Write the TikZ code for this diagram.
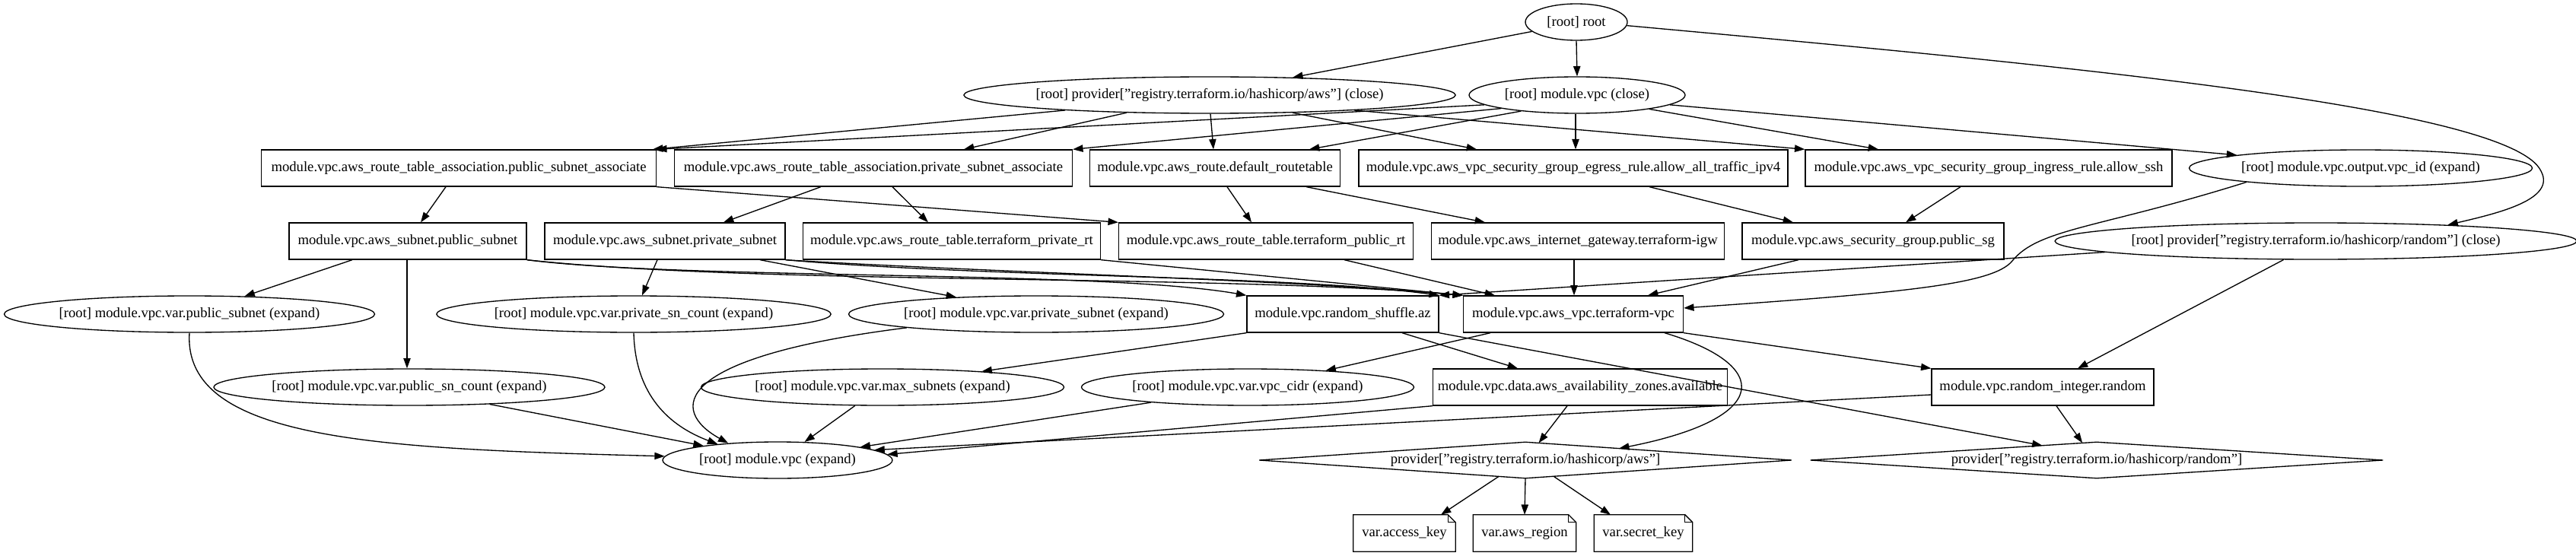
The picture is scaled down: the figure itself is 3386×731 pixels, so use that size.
\documentclass[tikz,border=0pt]{standalone}
\usepackage{fontspec}
\setmainfont{Liberation Serif}
\usetikzlibrary{shapes.geometric,arrows.meta,calc}
\newcommand\gvfont{\fontsize{14pt}{16pt}\selectfont}
\newcommand\gvnote[1]{%
  \draw[line width=1pt] (#1.south west) -- (#1.north west) -- ([xshift=-7.5pt]#1.north east) -- ([yshift=-7.5pt]#1.north east) -- (#1.south east) -- cycle;
  \draw[line width=1pt] ([xshift=-7.5pt]#1.north east) -- ([xshift=-7.5pt,yshift=-7.5pt]#1.north east) -- ([yshift=-7.5pt]#1.north east);}
\tikzset{
  gbox/.style={draw, rectangle, line width=1pt, minimum height=36pt, inner sep=0pt, font=\gvfont},
  gell/.style={draw, ellipse, line width=1pt, minimum height=36pt, inner sep=0pt, font=\gvfont},
  gplain/.style={rectangle, inner sep=0pt, minimum height=36pt, font=\gvfont},
  gedge/.style={line width=1pt, -{Triangle[length=10pt,width=7pt]}},
}
\begin{document}
\begin{tikzpicture}[x=0.75pt,y=-0.75pt]
\fill[white] (0,0) rectangle (3386,731);
\useasboundingbox (0,0) rectangle (3386,731);
% row 0
\node[gell, minimum width=100.5pt] (root) at (2072,29) {[root] root};
% row 1
\node[gell, minimum width=474.75pt] (pawsclose) at (1590,125) {[root] provider["registry.terraform.io/hashicorp/aws"] (close)};
\node[gell, minimum width=213pt] (vpcclose) at (2073,125) {[root] module.vpc (close)};
% row 2
\node[gbox, minimum width=389.25pt] (psa) at (603,221) {module.vpc.aws\_route\_table\_association.public\_subnet\_associate};
\node[gbox, minimum width=392.25pt] (prsa) at (1148,221) {module.vpc.aws\_route\_table\_association.private\_subnet\_associate};
\node[gbox, minimum width=246.75pt] (drt) at (1597,221) {module.vpc.aws\_route.default\_routetable};
\node[gbox, minimum width=423pt] (egress) at (2068,221) {module.vpc.aws\_vpc\_security\_group\_egress\_rule.allow\_all\_traffic\_ipv4};
\node[gbox, minimum width=361.5pt] (ingress) at (2614,221) {module.vpc.aws\_vpc\_security\_group\_ingress\_rule.allow\_ssh};
\node[gell, minimum width=338.25pt] (outvpc) at (3103,221) {[root] module.vpc.output.vpc\_id (expand)};
% row 3
\node[gbox, minimum width=234pt] (pubsub) at (536,317) {module.vpc.aws\_subnet.public\_subnet};
\node[gbox, minimum width=237pt] (privsub) at (874,317) {module.vpc.aws\_subnet.private\_subnet};
\node[gbox, minimum width=293.25pt] (privrt) at (1251,317) {module.vpc.aws\_route\_table.terraform\_private\_rt};
\node[gbox, minimum width=290.25pt] (pubrt) at (1664,317) {module.vpc.aws\_route\_table.terraform\_public\_rt};
\node[gbox, minimum width=288.75pt] (igw) at (2074,317) {module.vpc.aws\_internet\_gateway.terraform-igw};
\node[gbox, minimum width=258pt] (sg) at (2462,317) {module.vpc.aws\_security\_group.public\_sg};
\node[gell, minimum width=503.25pt] (prclose) at (3044,317) {[root] provider["registry.terraform.io/hashicorp/random"] (close)};
% row 4
\node[gell, minimum width=365.25pt] (vpubsub) at (249,413) {[root] module.vpc.var.public\_subnet (expand)};
\node[gell, minimum width=388.5pt] (vprivcnt) at (833,413) {[root] module.vpc.var.private\_sn\_count (expand)};
\node[gell, minimum width=369.75pt] (vprivsub) at (1362,413) {[root] module.vpc.var.private\_subnet (expand)};
\node[gbox, minimum width=189pt] (shuffle) at (1765,413) {module.vpc.random\_shuffle.az};
\node[gbox, minimum width=216.75pt] (vpc) at (2068,413) {module.vpc.aws\_vpc.terraform-vpc};
% row 5
\node[gell, minimum width=385.5pt] (vpubcnt) at (538,509) {[root] module.vpc.var.public\_sn\_count (expand)};
\node[gell, minimum width=357.75pt] (vmax) at (1160,509) {[root] module.vpc.var.max\_subnets (expand)};
\node[gell, minimum width=327.75pt] (vcidr) at (1640,509) {[root] module.vpc.var.vpc\_cidr (expand)};
\node[gbox, minimum width=290.25pt] (daz) at (2077,509) {module.vpc.data.aws\_availability\_zones.available};
\node[gbox, minimum width=219pt] (rint) at (2685,509) {module.vpc.random\_integer.random};
% row 6
\node[gell, minimum width=226.5pt] (vpcexp) at (1022,605) {[root] module.vpc (expand)};
\node[gplain, minimum width=524.25pt, minimum height=35.25pt] (paws) at (2005,605) {provider["registry.terraform.io/hashicorp/aws"]};
\node[gplain, minimum width=564pt, minimum height=35.25pt] (prand) at (2756,605) {provider["registry.terraform.io/hashicorp/random"]};
\draw[line width=1pt] (paws.west) -- (paws.north) -- (paws.east) -- (paws.south) -- cycle;
\draw[line width=1pt] (prand.west) -- (prand.north) -- (prand.east) -- (prand.south) -- cycle;
% row 7
\node[gplain, minimum width=100.5pt] (ak) at (1846,701) {var.access\_key};
\node[gplain, minimum width=101.25pt] (ar) at (2004,701) {var.aws\_region};
\node[gplain, minimum width=96.75pt] (sk) at (2160,701) {var.secret\_key};
\gvnote{ak}
\gvnote{ar}
\gvnote{sk}
% edges from root
\draw[gedge] (root.192) -- (pawsclose.12);
\draw[gedge] (root.south) -- (vpcclose.north);
\draw[gedge] (root.-4) .. controls (2700,85) and (3300,140) .. (3340,225) .. controls (3360,262) and (3285,280) .. (prclose.7);
% provider aws close
\draw[gedge] (pawsclose.186) -- (psa.north -| 858,0);
\draw[gedge] (pawsclose.192) -- (prsa.north -| 1267,0);
\draw[gedge] (pawsclose.south -| 1591,0) -- (drt.north -| 1595,0);
\draw[gedge] (pawsclose.348) -- (egress.north -| 1941,0);
\draw[gedge] (pawsclose.354.5) -- (ingress.north west);
% module.vpc close
\draw[gedge] (vpcclose.186) -- (psa.north east);
\draw[gedge] (vpcclose.190) -- (prsa.north east);
\draw[gedge] (vpcclose.196) -- (drt.north -| 1721,0);
\draw[gedge] (vpcclose.south -| 2071,0) -- (egress.north -| 2071,0);
\draw[gedge] (vpcclose.349) -- (ingress.north -| 2469,0);
\draw[gedge] (vpcclose.354.5) -- (outvpc.174);
% row 2 -> row 3
\draw[gedge] (psa.south -| 586,0) -- (pubsub.north -| 553,0);
\draw[gedge] (psa.south east) -- (pubrt.north west);
\draw[gedge] (prsa.south -| 1079,0) -- (privsub.north -| 951,0);
\draw[gedge] (prsa.south -| 1173,0) -- (privrt.north -| 1220,0);
\draw[gedge] (drt.south -| 1613,0) -- (pubrt.north -| 1645,0);
\draw[gedge] (drt.south -| 1717,0) -- (igw.north -| 1952,0);
\draw[gedge] (egress.south -| 2168,0) -- (sg.north -| 2357,0);
\draw[gedge] (ingress.south -| 2577,0) -- (sg.north -| 2505,0);
\draw[gedge] (outvpc.187) .. controls (2760,300) and (2680,300) .. (2645,343) .. controls (2620,374) and (2500,385) .. (vpc.east |- 0,405);
% row 3 -> below
\draw[gedge] (pubsub.south -| 463,0) -- (vpubsub.18);
\draw[gedge] (pubsub.south -| 535,0) -- (vpubcnt.north -| 535,0);
\draw[gedge] (pubsub.south east) .. controls (900,368) and (1450,355) .. (shuffle.north west);
\draw[gedge] (pubsub.south east) .. controls (1000,375) and (1600,360) .. (vpc.north west);
\draw[gedge] (privsub.south -| 864,0) -- (vprivcnt.north -| 844,0);
\draw[gedge] (privsub.south -| 999,0) -- (vprivsub.168);
\draw[gedge] (privsub.south east) .. controls (1300,365) and (1700,362) .. (shuffle.north east);
\draw[gedge] (privsub.south east) .. controls (1300,358) and (1700,368) .. (vpc.north west);
\draw[gedge] (privrt.south east) -- (vpc.north west);
\draw[gedge] (pubrt.south -| 1767,0) -- (vpc.north -| 1965,0);
\draw[gedge] (igw.south -| 2069,0) -- (vpc.north -| 2069,0);
\draw[gedge] (sg.south -| 2364,0) -- (vpc.north -| 2166,0);
\draw[gedge] (prclose.183.4) -- (shuffle.north east);
\draw[gedge] (prclose.210.8) -- (rint.north -| 2731,0);
% row 4 -> below
\draw[gedge] (vpubsub.south) .. controls (240,580) and (500,590) .. (vpcexp.178);
\draw[gedge] (vprivcnt.south) .. controls (835,520) and (880,560) .. (vpcexp.165);
\draw[gedge] (vprivsub.186) .. controls (880,470) and (880,540) .. (vpcexp.161);
\draw[gedge] (shuffle.south west) -- (vmax.9);
\draw[gedge] (shuffle.south -| 1843,0) -- (daz.north -| 1995,0);
\draw[gedge] (shuffle.south east) -- ($(prand.north)!0.19!(prand.west)$);
\draw[gedge] (vpc.south -| 1959,0) -- (vcidr.12);
\draw[gedge] (vpc.south east) -- (rint.north west);
\draw[gedge] (vpc.south -| 2188,0) .. controls (2330,480) and (2330,550) .. ($(paws.north)!0.352!(paws.east)$);
% row 5 -> below
\draw[gedge] (vpubcnt.348.3) -- (vpcexp.169);
\draw[gedge] (vmax.214) -- (vpcexp.34);
\draw[gedge] (vcidr.189) -- (vpcexp.9);
\draw[gedge] (daz.south west) -- (vpcexp.3.5);
\draw[gedge] (rint.west |- 0,519) -- (vpcexp.6);
\draw[gedge] (daz.south -| 2060,0) -- ($(paws.north)!0.05!(paws.east)$);
\draw[gedge] (rint.south -| 2703,0) -- ($(prand.north)!0.05!(prand.west)$);
% provider aws -> vars
\draw[gedge] ($(paws.south)!0.1!(paws.west)$) -- (ak.north -| 1894,0);
\draw[gedge] (paws.south) -- (ar.north);
\draw[gedge] ($(paws.south)!0.106!(paws.east)$) -- (sk.north -| 2117,0);
\end{tikzpicture}
\end{document}
